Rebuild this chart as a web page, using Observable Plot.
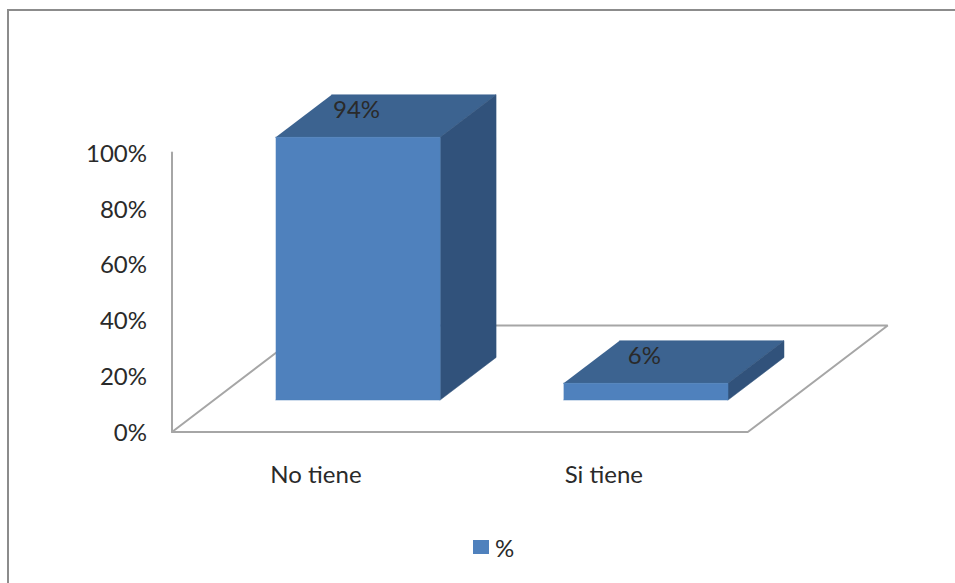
<!DOCTYPE html>
<html>
<head>
<meta charset="utf-8">
<script src="https://cdn.jsdelivr.net/npm/d3@7"></script>
<script src="https://cdn.jsdelivr.net/npm/@observablehq/plot@0.6"></script>
<style>
  html, body { margin: 0; padding: 0; background: #fff; }
  #page { position: relative; width: 955px; height: 583px; overflow: hidden; font-family: Lato, "Open Sans", sans-serif; }
  #frame { position: absolute; left: 7px; top: 9px; right: -4px; bottom: -4px; border: 2px solid #8c8c8c; }
  #chart { position: absolute; left: 0; top: 0; }
  #legend { position: absolute; left: 473px; top: 530px; height: 34px; display: flex; align-items: center; gap: 6px; font-size: 24px; color: #2a2a2a; }
  #legend i { display: block; width: 16px; height: 14px; background: #4f81bd; }
</style>
</head>
<body>
<div id="page">
  <div id="frame"></div>
  <div id="chart"></div>
  <div id="legend"><i></i><span>%</span></div>
</div>
<script>
// Survey answers, as shares of respondents
const categories = ["No tiene", "Si tiene"];
const shares = [94, 6];
const valueTicks = [0, 20, 40, 60, 80, 100];

// Oblique projection of the 3D column chart: one full step of depth moves
// a point right (in category units) and up (in percentage points).
const depthX = 0.486;
const depthY = 38.1;
const barWidth = 0.571;
const barNear = 0.3;   // depth of the front of each column
const barFar = 0.7;    // depth of the back of each column

const at = (u, v, d) => ({x: u + d * depthX, y: v + d * depthY});
const poly = (id, pts) => pts.map(([u, v, d]) => ({id, ...at(u, v, d)}));

const bars = categories.map((name, i) => ({
  name, value: shares[i],
  left: i + (1 - barWidth) / 2,
  right: i + (1 + barWidth) / 2
}));

const fronts = bars.flatMap(b => poly(b.name, [
  [b.left, 0, barNear], [b.right, 0, barNear], [b.right, b.value, barNear], [b.left, b.value, barNear]
]));
const tops = bars.flatMap(b => poly(b.name, [
  [b.left, b.value, barNear], [b.right, b.value, barNear], [b.right, b.value, barFar], [b.left, b.value, barFar]
]));
const sides = bars.flatMap(b => poly(b.name, [
  [b.right, 0, barNear], [b.right, 0, barFar], [b.right, b.value, barFar], [b.right, b.value, barNear]
]));

const n = categories.length;
const floor = poly("floor", [[0, 0, 0], [n, 0, 0], [n, 0, 1], [0, 0, 1], [0, 0, 0]]);
const wall = poly("wall", [[0, 0, 0], [0, 100, 0]]);

const face = (data, fill) => Plot.line(data, {x: "x", y: "y", z: "id", fill, stroke: fill, strokeWidth: 0.5});
const labelFont = {fontSize: 24, fill: "#2a2a2a"};

const plot = Plot.plot({
  width: 955,
  height: 520,
  marginLeft: 171.5,
  marginRight: 207.7,
  marginTop: 152,
  marginBottom: 88.5,
  style: {fontFamily: "Lato, 'Open Sans', sans-serif", background: "transparent", overflow: "visible"},
  x: {domain: [0, n], axis: null},
  y: {domain: [0, 100], axis: null},
  marks: [
    Plot.line(floor, {x: "x", y: "y", stroke: "#a6a6a6", strokeWidth: 2, strokeLinejoin: "miter"}),
    Plot.line(wall, {x: "x", y: "y", stroke: "#a6a6a6", strokeWidth: 2}),
    face(tops, "#3c6390"),
    face(sides, "#31527b"),
    face(fronts, "#4f81bd"),
    Plot.axisY({ticks: valueTicks, tickSize: 0, tickPadding: 25, dy: 1.5, tickFormat: d => `${d}%`, label: null, ...labelFont}),
    Plot.axisX({
      ticks: categories.map((_, i) => i + 0.5),
      tickFormat: d => categories[Math.floor(d)],
      tickSize: 0, tickPadding: 34, label: null, ...labelFont
    }),
    Plot.text(bars, {
      x: b => (b.left + b.right) / 2 + barNear * depthX - 0.005,
      y: b => b.value + 0.55 * depthY,
      text: b => `${b.value}%`,
      ...labelFont
    })
  ]
});
document.getElementById("chart").append(plot);
</script>
</body>
</html>
